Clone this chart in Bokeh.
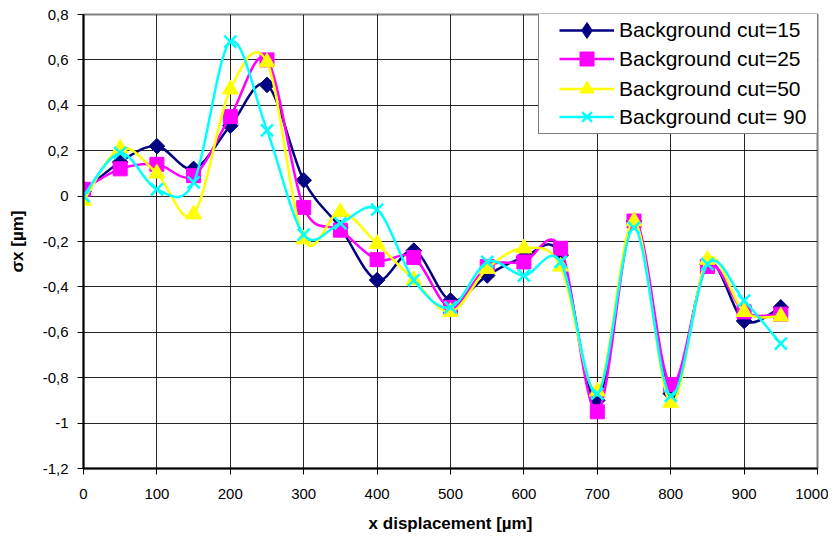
import numpy as np
from bokeh.plotting import figure
from bokeh.models import (Range1d, FixedTicker, CustomJSTickFormatter, Legend, LegendItem,
                          ColumnDataSource)
from bokeh.embed import file_html
from bokeh.resources import INLINE

# ---- data ----
x_disp = [0, 50, 100, 150, 200, 250, 300, 350, 400, 450,
          500, 550, 600, 650, 700, 750, 800, 850, 900, 950]
cut15 = [0.02, 0.15, 0.22, 0.12, 0.31, 0.49, 0.07, -0.14, -0.37, -0.24,
         -0.46, -0.35, -0.27, -0.26, -0.90, -0.11, -0.87, -0.30, -0.55, -0.49]
cut25 = [0.03, 0.12, 0.14, 0.09, 0.35, 0.60, -0.05, -0.15, -0.28, -0.27,
         -0.49, -0.31, -0.29, -0.23, -0.95, -0.11, -0.83, -0.31, -0.51, -0.52]
cut50 = [-0.02, 0.21, 0.10, -0.08, 0.47, 0.59, -0.19, -0.07, -0.21, -0.37,
         -0.51, -0.32, -0.23, -0.31, -0.86, -0.11, -0.91, -0.28, -0.51, -0.53]
cut90 = [0.00, 0.19, 0.03, 0.06, 0.68, 0.29, -0.17, -0.12, -0.06, -0.37,
         -0.49, -0.29, -0.35, -0.29, -0.87, -0.14, -0.88, -0.30, -0.46, -0.65]
series_names = ["Background cut=15", "Background cut=25", "Background cut=50", "Background cut= 90"]
x_ticks = [0, 100, 200, 300, 400, 500, 600, 700, 800, 900, 1000]
y_ticks = [-1.2, -1.0, -0.8, -0.6, -0.4, -0.2, 0.0, 0.2, 0.4, 0.6, 0.8]

colors = ["#000080", "#FF00FF", "#FFFF00", "#00FFFF"]
markers = ["square", "square", "triangle", "x"]
legend_markers = ["diamond", "square", "triangle", "x"]
angles = [np.pi / 4, 0.0, 0.0, 0.0]
msizes = [11, 14, 16, 17]

p = figure(width=828, height=538, output_backend="svg", toolbar_location=None,
           x_range=Range1d(0, 1000), y_range=Range1d(-1.2, 0.8),
           min_border_left=83, min_border_right=11, min_border_top=14, min_border_bottom=70)
p.background_fill_color = "white"
p.border_fill_color = "white"
p.outline_line_color = "#808080"
p.outline_line_width = 2

for ax in (p.xaxis[0], p.yaxis[0]):
    ax.axis_line_color = "black"
    ax.axis_line_width = 2
    ax.major_tick_line_color = "black"
    ax.major_tick_in = 0
    ax.major_tick_out = 6
    ax.minor_tick_line_color = None
    ax.major_label_text_font = "Liberation Sans"
    ax.major_label_text_font_size = "15px"
    ax.major_label_text_color = "black"
    ax.axis_label_text_font = "Liberation Sans"
    ax.axis_label_text_font_style = "bold"
    ax.axis_label_text_font_size = "17px"
    ax.axis_label_text_color = "black"

p.xaxis.ticker = FixedTicker(ticks=x_ticks)
p.yaxis.ticker = FixedTicker(ticks=y_ticks)
p.yaxis.formatter = CustomJSTickFormatter(code="""
    const v = Math.round(tick * 10) / 10;
    return (v === 0 ? "0" : String(v)).replace('.', ',');
""")
p.xaxis.axis_label = "x displacement [µm]"
p.yaxis.axis_label = "σx [µm]"
p.xaxis.major_label_standoff = 14
p.yaxis.major_label_standoff = 9
p.xaxis.axis_label_standoff = 12
p.yaxis.axis_label_standoff = 13

p.xgrid.grid_line_color = "black"
p.ygrid.grid_line_color = "black"
p.xgrid.grid_line_width = 1
p.ygrid.grid_line_width = 1
p.xgrid.grid_line_alpha = 0.85
p.ygrid.grid_line_alpha = 0.85


def smooth_segments(xs, ys):
    P = np.column_stack([np.asarray(xs, float), np.asarray(ys, float)])
    n = len(P)
    ext = np.vstack([P[0], P, P[-1]])
    x0, y0, x1, y1 = [], [], [], []
    cx0, cy0, cx1, cy1 = [], [], [], []
    for i in range(n - 1):
        pm, p0, p1, p2 = ext[i], ext[i + 1], ext[i + 2], ext[i + 3]
        c0 = p0 + (p1 - pm) / 6.0
        c1 = p1 - (p2 - p0) / 6.0
        x0.append(p0[0]); y0.append(p0[1]); x1.append(p1[0]); y1.append(p1[1])
        cx0.append(c0[0]); cy0.append(c0[1]); cx1.append(c1[0]); cy1.append(c1[1])
    return dict(x0=x0, y0=y0, x1=x1, y1=y1, cx0=cx0, cy0=cy0, cx1=cx1, cy1=cy1)


items = []
for name, ys, c, m, lm, a, s in zip(series_names, [cut15, cut25, cut50, cut90], colors,
                                    markers, legend_markers, angles, msizes):
    seg = ColumnDataSource(smooth_segments(x_disp, ys))
    p.bezier(x0="x0", y0="y0", x1="x1", y1="y1", cx0="cx0", cy0="cy0", cx1="cx1", cy1="cy1",
             source=seg, line_color=c, line_width=2.5)
    leg_line = p.line(x=[x_disp[0]], y=[ys[0]], line_color=c, line_width=2.5)
    if m == "x":
        sc = p.scatter(x_disp, ys, marker=m, size=s, angle=a, line_color=c, line_width=2.5, fill_color=None)
        leg_mark = sc
    elif lm != m:
        # legend symbol (sits underneath the first plotted marker)
        leg_mark = p.scatter(x=[x_disp[0]], y=[ys[0]], marker=lm, size=10, line_color=c, fill_color=c)
        sc = p.scatter(x_disp, ys, marker=m, size=s, angle=a, line_color=c, fill_color=c)
    else:
        sc = p.scatter(x_disp, ys, marker=m, size=s, angle=a, line_color=c, fill_color=c)
        leg_mark = sc
    items.append(LegendItem(label=name, renderers=[leg_line, leg_mark]))

# legend frame (box only)
frame_dummy = p.line(x=[x_disp[0]], y=[cut15[0]], line_alpha=0)
box = Legend(items=[LegendItem(label=" ", renderers=[frame_dummy])], location=(455, 334))
box.border_line_color = "black"
box.border_line_width = 1
box.background_fill_color = "white"
box.background_fill_alpha = 1
box.padding = 0
box.margin = 0
box.glyph_width = 200
box.glyph_height = 120
box.label_height = 120
box.label_width = 89
box.label_standoff = 0
box.label_text_alpha = 0
box.label_text_font_size = "10px"
p.add_layout(box, "center")

# one legend row per series, stacked inside the frame
row_heights = [40, 35, 35, 35]
row_centers = [30, 59, 88, 117]
for item, gh, yc in zip(items, row_heights, row_centers):
    lg = Legend(items=[item], location=(476, int(round(468 - yc - gh / 2))))
    lg.border_line_color = None
    lg.background_fill_alpha = 0
    lg.label_text_font = "Liberation Sans"
    lg.label_text_font_size = "21px"
    lg.label_text_color = "black"
    lg.glyph_width = 55
    lg.glyph_height = gh
    lg.label_height = gh
    lg.padding = 0
    lg.margin = 0
    lg.label_standoff = 5
    p.add_layout(lg, "center")

open("out.html", "w").write(file_html(p, INLINE))
